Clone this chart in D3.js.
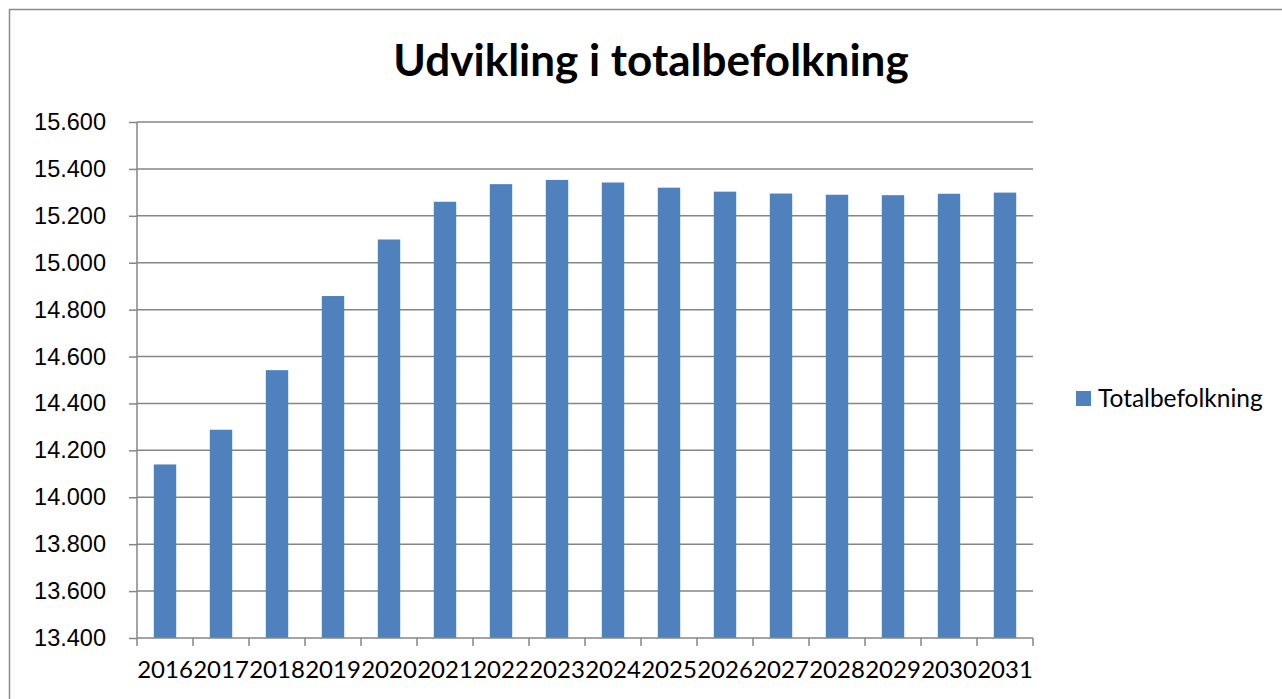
<!DOCTYPE html>
<html lang="da">
<head>
  <meta charset="UTF-8">
  <title>Udvikling i totalbefolkning</title>
  <style>
    body { margin: 0; background: #fff; }
    svg { display: block; font-family: Lato, "Open Sans", sans-serif; }
    .grid line { stroke: #868686; stroke-width: 1.5; }
    .axis path, .axis line { stroke: #868686; stroke-width: 1.5; }
    .axis text { fill: #000; font-size: 23.5px; }
  </style>
</head>
<body>
  <svg class="chart"></svg>
  <script src="https://cdn.jsdelivr.net/npm/d3@7"></script>
  <script>
    var years = ["2016", "2017", "2018", "2019", "2020", "2021", "2022", "2023",
                 "2024", "2025", "2026", "2027", "2028", "2029", "2030", "2031"];
    var population = [14140, 14288, 14542, 14858, 15099, 15260, 15335, 15353,
                      15342, 15320, 15303, 15295, 15290, 15288, 15294, 15299];
    var yTicks = [13400, 13600, 13800, 14000, 14200, 14400, 14600, 14800, 15000, 15200, 15400, 15600];
    var seriesName = "Totalbefolkning";

    var svgWidth = 1282, svgHeight = 699;
    var plot = { left: 137, right: 1033, top: 122, bottom: 638 };
    var barColor = "#4f81bd";

    var svg = d3.select("svg")
      .attr("width", svgWidth)
      .attr("height", svgHeight);

    // outer chart frame (runs off the right and bottom)
    svg.append("rect")
      .attr("x", 9.5).attr("y", 9.5)
      .attr("width", 1300).attr("height", 720)
      .attr("fill", "#fff")
      .attr("stroke", "#8a8a8a")
      .attr("stroke-width", 1.5);

    var xScale = d3.scaleBand()
      .domain(years)
      .range([plot.left, plot.right])
      .paddingInner(0.6)
      .paddingOuter(0.3);

    var yScale = d3.scaleLinear()
      .domain([13400, 15600])
      .range([plot.bottom, plot.top]);

    // gridlines
    svg.append("g").attr("class", "grid")
      .selectAll("line")
      .data(yTicks.slice(1))
      .enter().append("line")
      .attr("x1", plot.left).attr("x2", plot.right)
      .attr("y1", d => yScale(d)).attr("y2", d => yScale(d));

    // bars
    svg.append("g")
      .selectAll("rect")
      .data(population)
      .enter().append("rect")
      .attr("x", (d, i) => xScale(years[i]))
      .attr("y", d => yScale(d))
      .attr("width", xScale.bandwidth())
      .attr("height", d => plot.bottom - yScale(d))
      .attr("fill", barColor);

    // y axis
    var yAxis = d3.axisLeft(yScale)
      .tickValues(yTicks)
      .tickSize(8)
      .tickPadding(23)
      .tickFormat(d => d3.format(",")(d).replace(",", "."));
    svg.append("g").attr("class", "axis")
      .attr("transform", `translate(${plot.left}, 0)`)
      .call(yAxis)
      .call(g => g.select(".domain").attr("d", `M0,${plot.top}V${plot.bottom}`));

    // x axis - ticks between categories
    var xAxisG = svg.append("g").attr("class", "axis")
      .attr("transform", `translate(0, ${plot.bottom})`);
    xAxisG.append("line")
      .attr("x1", plot.left).attr("x2", plot.right)
      .attr("y1", 0).attr("y2", 0);
    var step = xScale.step();
    xAxisG.selectAll(".tk")
      .data(d3.range(years.length + 1))
      .enter().append("line")
      .attr("class", "tk")
      .attr("x1", i => plot.left + i * step).attr("x2", i => plot.left + i * step)
      .attr("y1", 0).attr("y2", 8);
    xAxisG.selectAll("text")
      .data(years)
      .enter().append("text")
      .attr("x", d => xScale(d) + xScale.bandwidth() / 2)
      .attr("y", 40)
      .attr("text-anchor", "middle")
      .style("font-size", "24px")
      .text(d => d);

    // title
    svg.append("text")
      .attr("x", 651).attr("y", 76)
      .attr("text-anchor", "middle")
      .style("font-size", "44px")
      .style("font-weight", "bold")
      .text("Udvikling i totalbefolkning");

    // legend
    var legend = svg.append("g").attr("transform", "translate(1076, 391)");
    legend.append("rect")
      .attr("width", 15).attr("height", 15)
      .attr("fill", barColor);
    legend.append("text")
      .attr("x", 22).attr("y", 16)
      .style("font-size", "24.5px")
      .text(seriesName);
  </script>
</body>
</html>
